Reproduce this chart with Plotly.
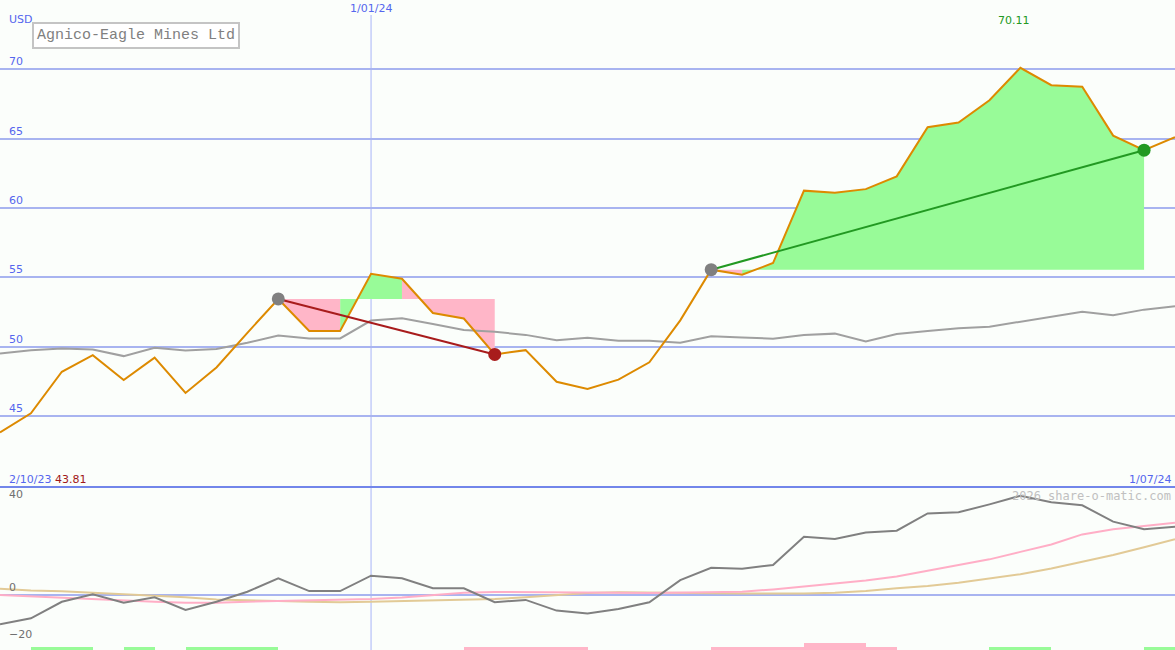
import pandas as pd
import plotly.graph_objects as go

# weekly closes, Agnico-Eagle
weeks = pd.date_range("2023-10-09", periods=39, freq="7D")
price = [43.81, 45.19, 48.19, 49.39, 47.59, 49.21, 46.66, 48.50, 51.00, 53.44,
         51.13, 51.13, 55.26, 54.90, 52.43, 52.03, 49.44, 49.75, 47.47, 46.95,
         47.62, 48.87, 51.90, 55.55, 55.19, 56.03, 61.25, 61.10, 61.36, 62.28,
         65.83, 66.17, 67.77, 70.11, 68.86, 68.74, 65.22, 64.17, 65.10]
average = [49.51, 49.75, 49.87, 49.80, 49.32, 49.92, 49.72, 49.84, 50.28, 50.80,
           50.59, 50.59, 51.88, 52.05, 51.64, 51.21, 51.07, 50.85, 50.47, 50.65,
           50.43, 50.43, 50.29, 50.75, 50.67, 50.58, 50.84, 50.94, 50.38, 50.91,
           51.13, 51.32, 51.44, 51.80, 52.12, 52.52, 52.26, 52.67, 52.91]

# lower panel oscillators
momentum = [-12.6, -10.0, -2.9, 0.3, -3.3, -1.0, -6.4, -2.9, 1.4, 7.2,
            1.7, 1.7, 8.3, 7.2, 2.9, 2.9, -3.1, -2.1, -6.7, -7.9,
            -6.0, -3.1, 6.4, 11.7, 11.3, 12.9, 25.0, 24.0, 26.8, 27.6,
            35.0, 35.5, 38.9, 42.6, 39.8, 38.5, 31.5, 28.2, 29.3]
fast_line = [0.0, -0.6, -1.1, -1.9, -2.4, -2.9, -3.3, -3.3, -2.9, -2.6,
             -2.3, -2.1, -1.7, -1.1, 0.0, 1.0, 1.3, 1.3, 1.1, 1.0,
             1.0, 0.9, 1.0, 1.1, 1.4, 2.4, 3.6, 4.7, 6.2, 7.9,
             10.3, 12.7, 15.3, 18.5, 21.7, 26.0, 28.2, 29.6, 31.0]
slow_line = [2.7, 1.9, 1.6, 1.0, 0.3, -0.4, -1.0, -1.9, -2.4, -2.6,
             -2.9, -3.1, -2.9, -2.6, -2.6, -2.1, -1.7, -1.0, 0.0, 0.9,
             1.2, 1.0, 0.7, 0.7, 0.6, 0.6, 0.6, 1.0, 1.7, 2.9,
             3.9, 5.3, 7.2, 8.9, 11.4, 14.3, 17.2, 20.5, 23.9]
# one value per week: +1 buy zone, -1 sell zone, -2 strong sell
week_signal = [0, 1, 1, 0, 1, 0, 1, 1, 1, 0, 0, 0, 0, 0, 0, -1, -1, -1, -1, 0,
               0, 0, 0, -1, -1, -1, -2, -2, -1, 0, 0, 0, 1, 1, 0, 0, 0, 1]

# trades: (entry week, exit week)
trades = [(9, 16), (23, 37)]

price_ticks = [45, 50, 55, 60, 65, 70]
osc_ticks = [-20, 0, 40]
year_mark = pd.Timestamp("2024-01-01")
start_label = "2/10/23"
end_label = "1/07/24"
mark_label = "1/01/24"

GREEN_FILL = "#98fb98"
PINK_FILL = "#ffb6c8"
BLUE = "#5566ee"
GRID = "#a8b4f0"

split = 1 - 487 / 650
price_range = [39.88, 75.0]
osc_range = [-23.6, 46.35]

fig = go.Figure()

# profit / loss shading per week for each trade
for a, b in trades:
    level = price[a]
    gx, gy, rx, ry = [], [], [], []
    for i in range(a, b):
        xs = [weeks[i], weeks[i], weeks[i + 1], weeks[i + 1], weeks[i], None]
        ys = [level, price[i], price[i + 1], level, level, None]
        if price[i + 1] >= level:
            gx += xs
            gy += ys
        else:
            rx += xs
            ry += ys
    for xs, ys, col in [(gx, gy, GREEN_FILL), (rx, ry, PINK_FILL)]:
        if xs:
            fig.add_trace(go.Scatter(x=xs, y=ys, yaxis="y2", mode="lines", fill="toself",
                                     fillcolor=col, line=dict(width=0), hoverinfo="skip"))

fig.add_trace(go.Scatter(x=weeks, y=average, yaxis="y2", mode="lines",
                         line=dict(color="#a0a0a0", width=2)))
fig.add_trace(go.Scatter(x=weeks, y=price, yaxis="y2", mode="lines",
                         line=dict(color="#dd8a00", width=2)))

for a, b in trades:
    col = "#229922" if price[b] > price[a] else "#a81c1c"
    fig.add_trace(go.Scatter(x=[weeks[a], weeks[b]], y=[price[a], price[b]], yaxis="y2",
                             mode="lines", line=dict(color=col, width=2)))
    fig.add_trace(go.Scatter(x=[weeks[a]], y=[price[a]], yaxis="y2", mode="markers",
                             marker=dict(color="#808080", size=13)))
    fig.add_trace(go.Scatter(x=[weeks[b]], y=[price[b]], yaxis="y2", mode="markers",
                             marker=dict(color=col, size=13)))

# lower panel
bar_x = [weeks[i] + pd.Timedelta(days=3.5) for i in range(len(week_signal))]
bar_h = [abs(s) * 1.3 + (0.3 if abs(s) > 1 else 0) for s in week_signal]
bar_c = [GREEN_FILL if s > 0 else PINK_FILL for s in week_signal]
fig.add_trace(go.Bar(x=bar_x, y=bar_h, base=osc_range[0], marker=dict(color=bar_c, line=dict(width=0)),
                     width=7 * 86400000, yaxis="y"))
fig.add_trace(go.Scatter(x=weeks, y=slow_line, mode="lines", line=dict(color="#e2ca96", width=2)))
fig.add_trace(go.Scatter(x=weeks, y=fast_line, mode="lines", line=dict(color="#ffaec6", width=2)))
fig.add_trace(go.Scatter(x=weeks, y=momentum, mode="lines", line=dict(color="#808080", width=2)))

fig.add_shape(type="line", xref="x", yref="paper", x0=year_mark, x1=year_mark,
              y0=0, y1=1 - 15 / 650, line=dict(color="#a8b4f8", width=1), layer="below")
fig.add_shape(type="line", xref="paper", yref="paper", x0=0, x1=1, y0=split, y1=split,
              line=dict(color="#7286ea", width=2))

ann = [
    dict(x=0.006, y=1 - 19 / 650, text="USD", font=dict(color=BLUE, size=11), xanchor="left"),
    dict(x=year_mark, xref="x", y=1 - 9 / 650, text=mark_label, font=dict(color=BLUE, size=11),
         xanchor="center"),
    dict(x=weeks[price.index(max(price))], xref="x", xshift=-6, y=1 - 21 / 650,
         text=f"{max(price):.2f}", font=dict(color="#229922", size=11), xanchor="center"),
    dict(x=32 / 1175, y=1 - 36 / 650, text="Agnico-Eagle Mines Ltd", xanchor="left",
         font=dict(family="Liberation Mono", color="#808080", size=15),
         bordercolor="#c4c4c4", borderwidth=2, borderpad=3, bgcolor="#ffffff"),
    dict(x=0.006, y=1 - 479 / 650, xanchor="left",
         text=f"{start_label} <span style='color:#a01818'>{price[0]:.2f}</span>",
         font=dict(color=BLUE, size=11)),
    dict(x=0.998, y=1 - 479 / 650, xanchor="right", text=end_label, font=dict(color=BLUE, size=11)),
    dict(x=0.998, y=1 - 496 / 650, xanchor="right", text="2026 share-o-matic.com",
         font=dict(family="DejaVu Sans Mono", color="#c0c0c0", size=12)),
]
for a in ann:
    a.setdefault("xref", "paper")
    a["yref"] = "paper"
    a["yanchor"] = "middle"
    a["showarrow"] = False

fig.update_layout(
    width=1175, height=650, margin=dict(l=0, r=0, t=0, b=0),
    paper_bgcolor="#fbfefb", plot_bgcolor="#fbfefb",
    showlegend=False, bargap=0, hovermode=False,
    font=dict(family="DejaVu Sans"),
    annotations=ann,
    xaxis=dict(range=[weeks[0], weeks[-1]], visible=False, showgrid=False),
    yaxis=dict(domain=[0, split], range=osc_range, tickvals=osc_ticks, showgrid=False,
               zeroline=True, zerolinecolor=GRID, zerolinewidth=2,
               ticklabelposition="inside top", ticklabelstandoff=6,
               tickfont=dict(color="#707070", size=11), ticks="", showline=False),
    yaxis2=dict(domain=[split, 1], range=price_range, tickvals=price_ticks, anchor="x",
                showgrid=True, gridcolor=GRID, gridwidth=2, zeroline=False,
                ticklabelposition="inside top", ticklabelstandoff=6,
                tickfont=dict(color=BLUE, size=11), ticks="", showline=False),
)

fig.write_html("out.html", config={"displayModeBar": False},
               post_script="document.body.style.margin='0';")
